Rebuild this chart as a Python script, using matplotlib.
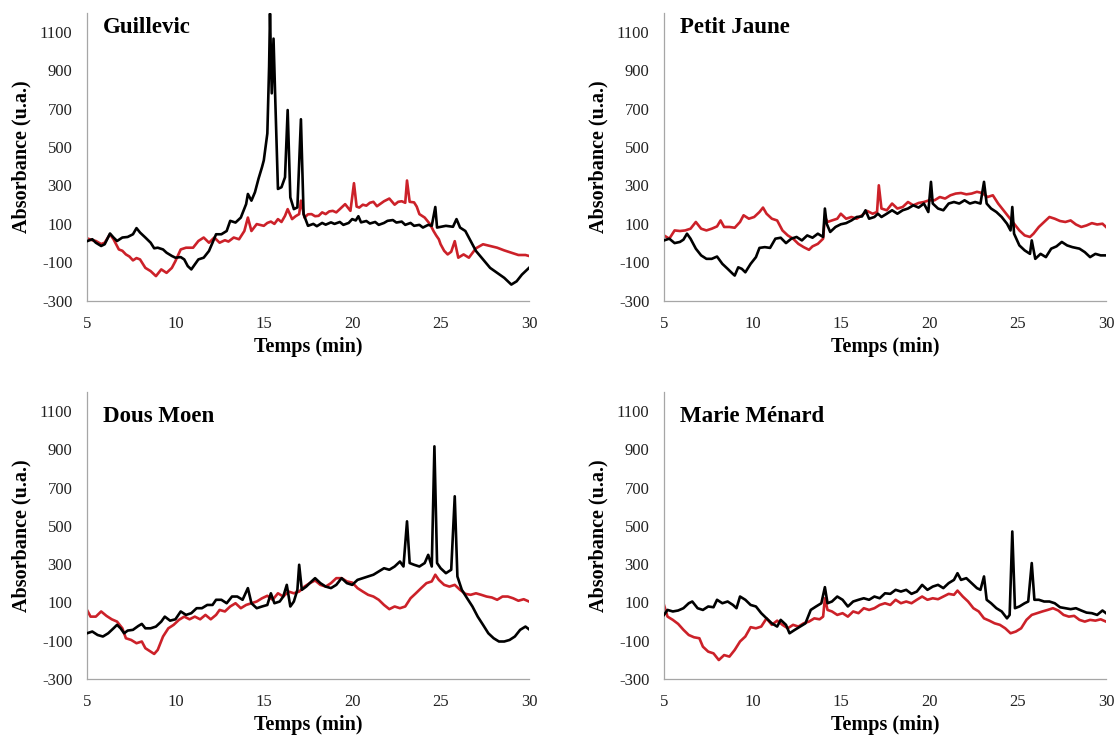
import matplotlib
matplotlib.use("Agg")
import matplotlib.pyplot as plt

plt.rcParams['font.family'] = ['Liberation Serif', 'DejaVu Serif']
plt.rcParams['axes.unicode_minus'] = False

# ---------------- data (time in min, absorbance in u.a.) ----------------
titles = ["Guillevic", "Petit Jaune", "Dous Moen", "Marie Ménard"]
x_ticks = [5, 10, 15, 20, 25, 30]
y_ticks = [-300, -100, 100, 300, 500, 700, 900, 1100]

# Guillevic
g_black_t = [5, 5.3, 5.5, 5.8, 6.0, 6.3, 6.5, 6.7, 7.0, 7.3, 7.6, 7.8, 8.0, 8.3, 8.6, 8.8, 9.0, 9.3, 9.5, 9.8,
             10.0, 10.3, 10.5, 10.7, 10.9, 11.1, 11.3, 11.6, 11.9, 12.1, 12.3, 12.6, 12.9, 13.1, 13.4, 13.7,
             14.0, 14.1, 14.3, 14.5, 14.7, 14.9, 15.0, 15.2, 15.3, 15.35, 15.45, 15.55, 15.65, 15.8, 16.0,
             16.2, 16.35, 16.5, 16.7, 16.9, 17.1, 17.25,
             17.5, 17.8, 18.0, 18.3, 18.5, 18.8, 19.0, 19.3, 19.5, 19.8, 20.0, 20.2, 20.35, 20.5, 20.8,
             21.0, 21.3, 21.5, 21.8, 22.0, 22.3, 22.5, 22.8, 23.0, 23.3, 23.5, 23.8, 24.0, 24.3, 24.5,
             24.7, 24.8, 25.3, 25.7, 25.9, 26.1, 26.4, 26.7, 27.0, 27.4, 27.8, 28.2, 28.6, 29.0, 29.3, 29.6, 30]
g_black_v = [10, 20, 2, -15, -6, 50, 29, 11, 29, 32, 46, 78, 55, 29, 2, -27, -24, -33, -50, -67,
             -76, -73, -85, -120, -137, -111, -85, -76, -41, 2, 46, 46, 63, 116, 107, 133,
             203, 256, 221, 265, 335, 396, 431, 571, 920, 1195, 780, 1065, 745, 282, 291,
             343, 693, 238, 177, 186, 645, 151,
             90, 100, 88, 105, 96, 108, 100, 110, 95, 105, 125, 118, 140, 108, 115,
             102, 110, 95, 105, 116, 120, 107, 112, 95, 105, 90, 95, 81, 95, 90,
             188, 81, 90, 85, 125, 81, 63, 11, -41, -85, -129, -155, -181, -216, -199, -164, -129]
g_red_t = [5, 5.3, 5.5, 5.8, 6.0, 6.3, 6.5, 6.8, 7.0, 7.2, 7.4, 7.6, 7.8, 8.0, 8.3, 8.6, 8.9, 9.2, 9.5, 9.8,
           10.0, 10.3, 10.6, 11.0, 11.3, 11.6, 11.9, 12.2, 12.5, 12.8, 13.0, 13.3, 13.6, 13.9, 14.1,
           14.3, 14.6, 15.0, 15.2, 15.4, 15.6, 15.8, 16.0, 16.2, 16.35, 16.6, 16.8, 17.0, 17.1, 17.3,
           17.5, 17.7, 17.9, 18.1, 18.3, 18.5, 18.7, 18.9, 19.1, 19.3, 19.6, 19.9, 20.1, 20.25, 20.4,
           20.6, 20.8, 21.0, 21.2, 21.4, 21.6, 21.8, 22.1, 22.4, 22.6, 22.8, 23.0, 23.1, 23.25, 23.5,
           23.65, 23.8, 24.1, 24.4, 24.6, 24.75, 24.9, 25.0, 25.2, 25.4, 25.6, 25.8, 26.0, 26.3, 26.6,
           27.0, 27.4, 27.8, 28.2, 28.6, 29.0, 29.4, 29.8, 30]
g_red_v = [25, 15, 11, -5, 2, 46, 20, -33, -40, -59, -70, -90, -78, -85, -129, -146, -172, -137, -155, -129,
           -94, -33, -24, -24, 11, 29, 2, 29, 2, 15, 8, 29, 20, 63, 133,
           63, 99, 90, 105, 112, 100, 125, 110, 142, 177, 125, 140, 151, 221, 133,
           150, 151, 140, 142, 160, 151, 165, 168, 160, 177, 203, 168, 312, 190, 185,
           200, 195, 210, 215, 192, 205, 218, 232, 200, 215, 218, 210, 326, 215, 212,
           190, 151, 133, 99, 63, 40, 20, -6, -40, -59, -45, 10, -76, -59, -76,
           -27, -6, -15, -24, -38, -50, -62, -62, -67]

# Petit Jaune
p_black_t = [5, 5.3, 5.6, 5.9, 6.1, 6.3, 6.5, 6.8, 7.1, 7.4, 7.7, 8.0, 8.3, 8.6, 8.9, 9.0, 9.2, 9.4, 9.6, 9.9,
             10.2, 10.4, 10.7, 11.0, 11.3, 11.6, 11.9, 12.2, 12.5, 12.8, 13.1, 13.4, 13.7, 14.0, 14.1,
             14.2, 14.4, 14.7, 15.0, 15.3, 15.6, 15.9, 16.2, 16.4, 16.6, 16.9, 17.1, 17.3, 17.6, 17.9,
             18.2, 18.5, 18.8, 19.1, 19.4, 19.7, 19.95, 20.1, 20.2, 20.5, 20.8, 21.1, 21.4, 21.7, 22.0,
             22.3, 22.6, 22.9, 23.1, 23.25, 23.5, 23.8, 24.1, 24.4, 24.6, 24.7, 24.8, 25.1, 25.4, 25.7,
             25.8, 26.0, 26.3, 26.6, 26.9, 27.2, 27.5, 27.8, 28.1, 28.5, 28.8, 29.1, 29.4, 29.7, 30]
p_black_v = [14, 23, 0, 6, 18, 49, 23, -29, -64, -82, -82, -70, -108, -134, -161, -169, -126, -134, -152, -108,
             -73, -25, -21, -25, 23, 28, 0, 23, 32, 14, 40, 28, 49, 32, 180,
             101, 58, 84, 98, 104, 118, 136, 139, 171, 127, 136, 153, 136, 153, 171,
             153, 171, 180, 197, 185, 206, 162, 319, 206, 180, 171, 206, 214, 206, 223,
             206, 214, 206, 319, 206, 180, 162, 136, 101, 66, 188, 49, -12, -38, -56,
             14, -82, -56, -73, -29, -17, 6, -12, -21, -29, -47, -73, -56, -64, -64]
p_red_t = [5, 5.3, 5.6, 5.9, 6.2, 6.5, 6.8, 7.1, 7.4, 7.7, 8.0, 8.2, 8.4, 8.7, 9.0, 9.3, 9.5, 9.8, 10.1, 10.4,
           10.6, 10.8, 11.1, 11.4, 11.7, 12.0, 12.3, 12.6, 12.9, 13.2, 13.4, 13.7, 14.0, 14.1, 14.25,
           14.5, 14.8, 15.0, 15.3, 15.6, 15.9, 16.2, 16.5, 16.8, 17.05, 17.15, 17.3, 17.6, 17.9, 18.2,
           18.5, 18.8, 19.1, 19.4, 19.7, 20.0, 20.3, 20.6, 20.9, 21.2, 21.5, 21.8, 22.1, 22.4, 22.7,
           23.0, 23.3, 23.6, 23.9, 24.2, 24.5, 24.8, 25.1, 25.4, 25.7, 25.9, 26.2, 26.5, 26.8, 27.1,
           27.4, 27.7, 28.0, 28.3, 28.6, 28.9, 29.2, 29.5, 29.8, 30]
p_red_v = [40, 23, 66, 63, 66, 75, 110, 75, 66, 75, 87, 118, 84, 84, 80, 110, 145, 127, 136, 162,
           185, 153, 127, 118, 66, 40, 23, -4, -21, -35, -17, -4, 23, 136, 110,
           118, 127, 153, 127, 136, 127, 145, 167, 153, 162, 301, 180, 171, 206, 180,
           188, 214, 197, 209, 214, 223, 223, 240, 232, 249, 258, 261, 254, 258, 267,
           261, 240, 249, 206, 171, 136, 101, 66, 40, 32, 49, 84, 110, 136, 127,
           115, 110, 118, 97, 84, 92, 104, 97, 101, 84]

# Dous Moen
d_black_t = [5, 5.3, 5.6, 5.9, 6.2, 6.5, 6.7, 6.9, 7.1, 7.3, 7.6, 7.9, 8.1, 8.3, 8.6, 8.9, 9.2, 9.4, 9.7, 10.0,
             10.3, 10.6, 10.9, 11.2, 11.5, 11.8, 12.1, 12.3, 12.6, 12.9, 13.2, 13.5, 13.8, 14.1, 14.3,
             14.6, 14.9, 15.2, 15.4, 15.6, 15.9, 16.1, 16.3, 16.5, 16.7, 16.9, 17.0, 17.15, 17.4, 17.7,
             17.9, 18.2, 18.5, 18.8, 19.1, 19.4, 19.7, 20.0, 20.3, 20.6, 20.9, 21.2, 21.5, 21.8, 22.1,
             22.4, 22.7, 22.9, 23.1, 23.25, 23.5, 23.8, 24.1, 24.3, 24.5, 24.65, 24.8, 25.0, 25.3, 25.6,
             25.8, 25.95, 26.2, 26.5, 26.8, 27.1, 27.4, 27.7, 28.0, 28.3, 28.6, 28.9, 29.2, 29.5, 29.8, 30]
d_black_v = [-61, -52, -70, -78, -61, -35, -17, -35, -61, -47, -43, -23, -12, -35, -35, -26, 0, 26, 5, 12,
             53, 35, 44, 70, 70, 87, 87, 114, 114, 96, 131, 131, 114, 175, 96,
             70, 79, 87, 148, 96, 105, 131, 192, 79, 105, 166, 297, 166, 183, 210,
             227, 201, 183, 175, 192, 227, 201, 192, 218, 227, 236, 245, 262, 279, 271,
             288, 314, 288, 524, 306, 297, 288, 306, 349, 288, 916, 306, 279, 253, 271,
             655, 236, 166, 122, 79, 26, -17, -61, -87, -104, -104, -96, -78, -43, -26, -40]
d_red_t = [5, 5.2, 5.5, 5.8, 6.1, 6.4, 6.7, 7.0, 7.2, 7.5, 7.8, 8.1, 8.3, 8.6, 8.8, 9.0, 9.3, 9.6, 9.9, 10.2,
           10.5, 10.8, 11.1, 11.4, 11.7, 12.0, 12.3, 12.5, 12.8, 13.1, 13.4, 13.7, 14.0, 14.3, 14.6,
           14.9, 15.2, 15.5, 15.8, 16.1, 16.4, 16.7, 17.0, 17.3, 17.6, 17.9, 18.2, 18.5, 18.8, 19.1,
           19.4, 19.7, 20.0, 20.3, 20.6, 20.9, 21.2, 21.5, 21.8, 22.1, 22.4, 22.7, 23.0, 23.3, 23.6,
           23.9, 24.2, 24.5, 24.7, 24.9, 25.2, 25.5, 25.8, 26.1, 26.4, 26.7, 27.0, 27.3, 27.6, 27.9,
           28.2, 28.5, 28.8, 29.1, 29.4, 29.7, 30]
d_red_v = [61, 26, 26, 53, 30, 12, 0, -35, -87, -96, -113, -104, -139, -157, -169, -148, -78, -35, -17, 9,
           26, 12, 26, 12, 35, 12, 35, 61, 53, 79, 96, 70, 87, 96, 105,
           122, 135, 114, 148, 131, 157, 148, 157, 183, 201, 215, 192, 183, 201, 227,
           227, 210, 204, 175, 157, 140, 131, 114, 87, 65, 79, 70, 79, 122, 148,
           175, 201, 210, 245, 218, 192, 183, 192, 166, 145, 140, 148, 140, 131, 126,
           114, 131, 131, 122, 109, 117, 105]

# Marie Ménard
m_black_t = [5, 5.2, 5.5, 5.8, 6.1, 6.4, 6.6, 6.9, 7.2, 7.5, 7.8, 8.0, 8.3, 8.6, 8.9, 9.1, 9.3, 9.6, 9.9, 10.2,
             10.5, 10.8, 11.1, 11.4, 11.6, 11.9, 12.1, 12.4, 12.7, 13.0, 13.3, 13.6, 13.9, 14.1, 14.25,
             14.5, 14.8, 15.1, 15.4, 15.7, 16.0, 16.3, 16.6, 16.9, 17.2, 17.5, 17.8, 18.1, 18.4, 18.7,
             19.0, 19.3, 19.6, 19.9, 20.2, 20.5, 20.8, 21.1, 21.4, 21.6, 21.8, 22.1, 22.4, 22.7, 22.9,
             23.1, 23.25, 23.5, 23.8, 24.1, 24.4, 24.55, 24.7, 24.85, 25.1, 25.4, 25.6, 25.8, 25.95, 26.2,
             26.5, 26.8, 27.1, 27.4, 27.7, 28.0, 28.3, 28.6, 28.9, 29.2, 29.5, 29.8, 30]
m_black_v = [35, 61, 53, 58, 70, 96, 105, 70, 61, 79, 75, 114, 96, 105, 87, 70, 131, 114, 87, 79,
             44, 17, -9, -26, 9, -17, -61, -43, -26, -9, 61, 79, 96, 180, 96,
             105, 131, 114, 79, 105, 114, 122, 114, 131, 122, 148, 145, 166, 157, 166,
             145, 157, 192, 166, 183, 192, 175, 201, 218, 253, 218, 227, 201, 175, 166,
             236, 114, 96, 70, 53, 17, 35, 471, 70, 79, 96, 105, 306, 114, 114,
             105, 105, 96, 75, 70, 65, 70, 58, 47, 44, 35, 58, 44]
m_red_t = [5, 5.2, 5.5, 5.8, 6.1, 6.4, 6.7, 7.0, 7.2, 7.5, 7.8, 8.1, 8.4, 8.7, 9.0, 9.3, 9.6, 9.9, 10.2, 10.5,
           10.8, 11.1, 11.4, 11.7, 12.0, 12.3, 12.6, 12.9, 13.2, 13.5, 13.8, 14.0, 14.1, 14.25, 14.5,
           14.8, 15.1, 15.4, 15.7, 16.0, 16.3, 16.6, 16.9, 17.2, 17.5, 17.8, 18.1, 18.4, 18.7, 19.0,
           19.3, 19.6, 19.9, 20.2, 20.5, 20.8, 21.1, 21.4, 21.6, 21.9, 22.2, 22.5, 22.8, 23.1, 23.4,
           23.7, 24.0, 24.3, 24.6, 24.9, 25.2, 25.5, 25.8, 26.1, 26.4, 26.7, 27.0, 27.3, 27.6, 27.9,
           28.2, 28.5, 28.8, 29.1, 29.4, 29.7, 30]
m_red_v = [87, 26, 9, -12, -43, -70, -82, -87, -131, -157, -166, -201, -175, -183, -148, -104, -78, -29, -35, -26,
           17, -17, 5, -17, -35, -17, -26, -9, 0, 17, 12, 26, 122, 61, 53,
           35, 44, 26, 53, 44, 70, 61, 70, 87, 96, 87, 114, 96, 105, 96,
           114, 131, 114, 122, 117, 131, 145, 140, 162, 131, 105, 70, 53, 17, 5,
           -9, -17, -35, -61, -52, -35, 9, 35, 44, 53, 61, 70, 58, 35, 26,
           30, 9, 0, 9, 5, 12, 0]

black_series = [(g_black_t, g_black_v), (p_black_t, p_black_v), (d_black_t, d_black_v), (m_black_t, m_black_v)]
red_series = [(g_red_t, g_red_v), (p_red_t, p_red_v), (d_red_t, d_red_v), (m_red_t, m_red_v)]

# ---------------- layout ----------------
fig = plt.figure(figsize=(11.2, 7.37), dpi=100)
W, H = 1120, 737
boxes = [(87, 12.7, 442, 288), (664, 12.7, 442, 288), (87, 392, 442, 287), (664, 392, 442, 287)]
title_y = [0.928, 0.928, 0.895, 0.895]
RED = '#cc2129'
SPINE = '#a6a6a6'

for i, (x0, y0, w, h) in enumerate(boxes):
    ax = fig.add_axes([x0 / W, 1 - (y0 + h) / H, w / W, h / H])
    bt, bv = black_series[i]
    rt, rv = red_series[i]
    ax.plot(rt, rv, color=RED, lw=1.9, zorder=2)
    ax.plot(bt, bv, color='black', lw=1.9, zorder=3)
    ax.set_xlim(5, 30)
    ax.set_ylim(-300, 1200)
    ax.set_xticks(x_ticks)
    ax.set_yticks(y_ticks)
    for s in ['top', 'right']:
        ax.spines[s].set_visible(False)
    for s in ['left', 'bottom']:
        ax.spines[s].set_color(SPINE)
        ax.spines[s].set_linewidth(0.9)
    ax.tick_params(axis='both', length=0, labelsize=12, colors='#222222')
    ax.tick_params(axis='y', pad=10.5)
    ax.tick_params(axis='x', pad=11)
    ax.set_xlabel('Temps (min)', fontsize=14.5, fontweight='bold')
    ax.set_ylabel('Absorbance (u.a.)', fontsize=14.5, fontweight='bold')
    ax.yaxis.set_label_coords(-0.125, 0.5)
    ax.xaxis.set_label_coords(0.5, -0.125)
    ax.text(0.036, title_y[i], titles[i], transform=ax.transAxes, fontsize=16.5,
            fontweight='bold', ha='left', va='baseline')

fig.savefig('out.png', dpi=100)
